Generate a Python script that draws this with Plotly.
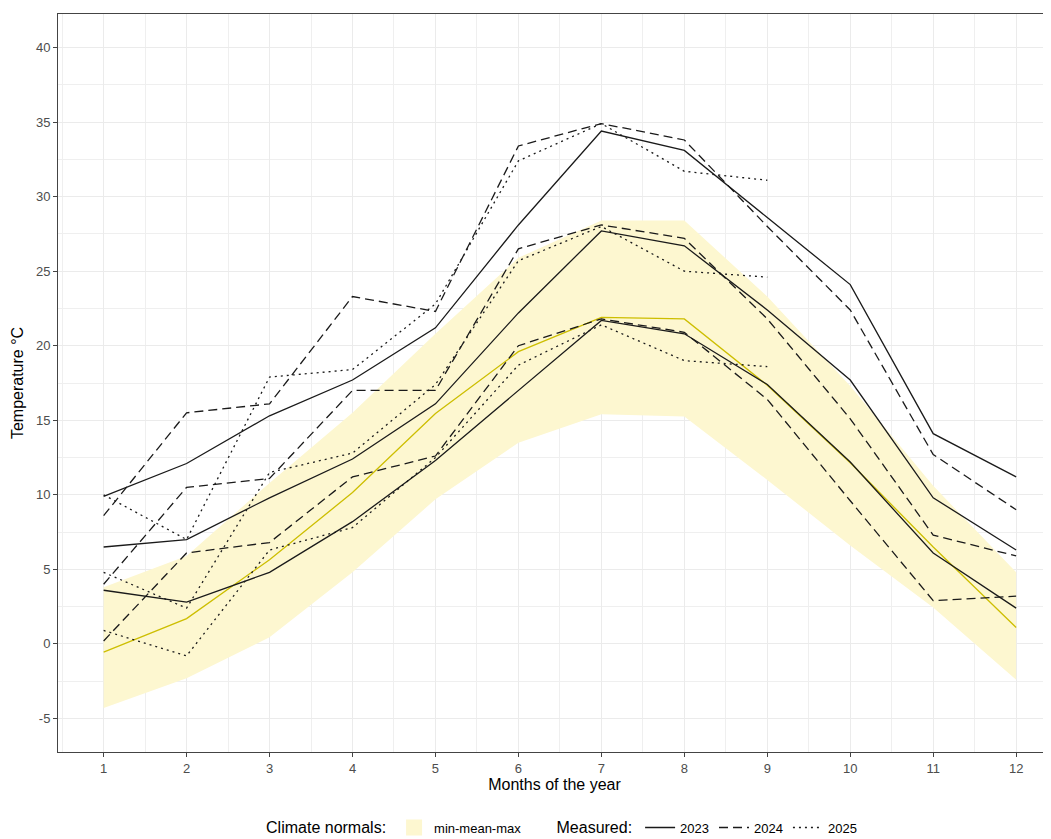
import plotly.graph_objects as go

months = list(range(1, 13))
months_2025 = list(range(1, 10))

# Climate normals (band + mean)
norm_min = [-4.3, -2.3, 0.45, 4.8, 9.7, 13.5, 15.4, 15.25, 11.0, 6.6, 2.45, -2.4]
norm_mean = [-0.55, 1.7, 5.65, 10.15, 15.45, 19.6, 21.9, 21.8, 17.35, 12.15, 6.5, 1.1]
norm_max = [3.8, 5.9, 10.8, 15.5, 20.8, 25.9, 28.4, 28.4, 23.3, 17.3, 10.6, 4.8]

# Measured 2023
t23_max = [9.9, 12.1, 15.3, 17.7, 21.2, 28.1, 34.4, 33.1, 28.6, 24.1, 14.1, 11.2]
t23_mean = [6.5, 7.0, 9.8, 12.4, 16.1, 22.2, 27.7, 26.7, 22.4, 17.7, 9.8, 6.3]
t23_min = [3.6, 2.8, 4.8, 8.2, 12.3, 17.0, 21.7, 20.8, 17.4, 12.2, 6.1, 2.4]

# Measured 2024
t24_max = [8.6, 15.5, 16.1, 23.3, 22.3, 33.4, 34.9, 33.8, 28.0, 22.4, 12.7, 9.0]
t24_mean = [4.0, 10.5, 11.1, 17.0, 17.0, 26.5, 28.1, 27.2, 21.8, 15.1, 7.3, 5.9]
t24_min = [0.2, 6.1, 6.8, 11.2, 12.6, 20.0, 21.8, 20.9, 16.4, 9.6, 2.9, 3.2]

# Measured 2025 (Jan-Sep)
t25_max = [10.0, 7.0, 17.9, 18.4, 22.8, 32.4, 34.9, 31.7, 31.1]
t25_mean = [4.8, 2.4, 11.5, 12.8, 17.4, 25.7, 28.0, 25.0, 24.6]
t25_min = [0.9, -0.8, 6.3, 7.8, 12.5, 18.7, 21.4, 19.0, 18.6]

x_ticks = list(range(1, 13))
y_ticks = [-5, 0, 5, 10, 15, 20, 25, 30, 35, 40]

BAND = "rgb(253,247,208)"
YEL = "rgb(205,190,0)"
INK = "rgb(26,26,26)"
FONT = "Liberation Sans, Arial, sans-serif"

fig = go.Figure()

# band
fig.add_trace(go.Scatter(x=months, y=norm_min, mode="lines", line=dict(width=0, color=BAND),
                         showlegend=False, hoverinfo="skip"))
fig.add_trace(go.Scatter(x=months, y=norm_max, mode="lines", line=dict(width=0, color=BAND),
                         fill="tonexty", fillcolor=BAND, showlegend=False))
fig.add_trace(go.Scatter(x=months, y=norm_mean, mode="lines", line=dict(width=1.3, color=YEL),
                         showlegend=False))
# legend key for the band (square swatch)
fig.add_trace(go.Scatter(x=[None], y=[None], mode="markers",
                         marker=dict(symbol="square", size=17, color=BAND),
                         name="min-mean-max", legend="legend", showlegend=True))

series = [
    ("2023", months, [t23_max, t23_mean, t23_min], "solid"),
    ("2024", months, [t24_max, t24_mean, t24_min], "9px,5px"),
    ("2025", months_2025, [t25_max, t25_mean, t25_min], "2px,4px"),
]
for name, xs, ys_list, dash in series:
    for i, ys in enumerate(ys_list):
        fig.add_trace(go.Scatter(
            x=xs, y=ys, mode="lines",
            line=dict(width=1.3, color=INK, dash=dash),
            name=name, legendgroup=name, legend="legend2",
            showlegend=(i == 0),
        ))

fig.update_layout(
    width=1043, height=831,
    margin=dict(l=50, r=0, t=6, b=87, autoexpand=False),
    paper_bgcolor="white", plot_bgcolor="white",
    font=dict(family=FONT, color="black"),
    xaxis=dict(
        range=[0.45, 12.42], tickvals=x_ticks, ticktext=[str(v) for v in x_ticks],
        showgrid=True, gridcolor="#EBEBEB", gridwidth=1.3,
        minor=dict(tick0=0.5, dtick=1, showgrid=True, gridcolor="#EFEFEF", gridwidth=0.8),
        showline=True, linecolor="#444", linewidth=1, mirror=True,
        ticks="outside", ticklen=4, tickcolor="#444", tickwidth=1,
        tickfont=dict(size=13, color="#4D4D4D", family=FONT),
        title=dict(text="Months of the year", font=dict(size=16, color="black", family=FONT), standoff=4),
        zeroline=False,
    ),
    yaxis=dict(
        range=[-7.25, 42.25], tickvals=y_ticks, ticktext=[str(v) for v in y_ticks],
        showgrid=True, gridcolor="#EBEBEB", gridwidth=1.3,
        minor=dict(tick0=2.5, dtick=5, showgrid=True, gridcolor="#EFEFEF", gridwidth=0.8),
        showline=True, linecolor="#444", linewidth=1, mirror=False,
        ticks="outside", ticklen=4, tickcolor="#444", tickwidth=1,
        tickfont=dict(size=13, color="#4D4D4D", family=FONT),
        title=dict(text="Temperature °C", font=dict(size=16, color="black", family=FONT), standoff=8),
        zeroline=False,
    ),
    legend=dict(
        orientation="h", x=0.2075, xanchor="left",
        yref="container", y=0.0132, yanchor="middle",
        title=dict(text="Climate normals:", side="left", font=dict(size=16, family=FONT)),
        font=dict(size=13, family=FONT), bgcolor="rgba(0,0,0,0)",
    ),
    legend2=dict(
        orientation="h", x=0.50, xanchor="left",
        yref="container", y=0.0132, yanchor="middle",
        title=dict(text="Measured:", side="left", font=dict(size=16, family=FONT)),
        font=dict(size=13, family=FONT), bgcolor="rgba(0,0,0,0)",
    ),
)

fig.write_html("out.html")
